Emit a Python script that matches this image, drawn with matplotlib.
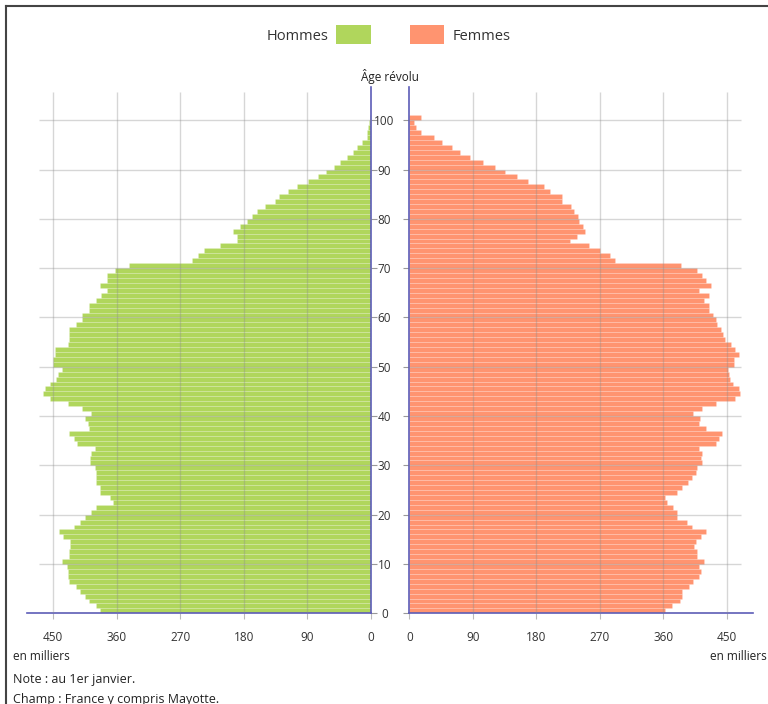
import matplotlib.pyplot as plt
from matplotlib.patches import Rectangle
from matplotlib.lines import Line2D
import numpy as np

# ages 0..100 (100 = 100 ans ou plus), values in thousands
ages = list(range(0, 101))

hommes = [384, 389, 399, 405, 412, 417, 427, 429, 429, 431,
          437, 427, 427, 426, 426, 436, 442, 421, 412, 405,
          396, 389, 365, 370, 383, 384, 389, 390, 390, 391,
          398, 398, 396, 391, 416, 421, 427, 399, 400, 405,
          397, 409, 429, 455, 465, 462, 455, 446, 443, 438,
          450, 450, 448, 448, 429, 427, 427, 427, 418, 409,
          409, 399, 399, 389, 382, 374, 384, 374, 374, 362,
          342, 254, 245, 237, 214, 190, 190, 195, 186, 176,
          169, 162, 150, 136, 130, 117, 105, 89, 75, 63,
          53, 44, 34, 25, 20, 13, 6, 5, 4, 3,
          2]

femmes = [362, 372, 383, 387, 387, 397, 402, 411, 414, 410,
          417, 408, 408, 404, 406, 414, 421, 400, 393, 379,
          379, 374, 365, 362, 379, 387, 395, 400, 406, 407,
          415, 414, 415, 410, 435, 439, 443, 421, 411, 412,
          402, 415, 435, 462, 469, 467, 458, 454, 453, 452,
          460, 460, 467, 462, 456, 447, 444, 442, 436, 435,
          430, 425, 425, 417, 425, 411, 428, 420, 415, 408,
          385, 292, 284, 270, 255, 227, 238, 249, 246, 241,
          239, 233, 229, 216, 216, 200, 191, 168, 153, 135,
          121, 105, 86, 72, 60, 46, 35, 16, 10, 6,
          16]

xticks = [0, 90, 180, 270, 360, 450]
yticks = list(range(0, 101, 10))

GREEN = '#b0d65c'
ORANGE = '#ff9470'
AXIS_BLUE = '#5c5cb8'
GRID = '#8c8c8c'
XMAX = 487
YMAX = 106.8

plt.rcParams['font.family'] = ['Open Sans', 'DejaVu Sans']

fig = plt.figure(figsize=(7.68, 7.04), dpi=100)
W, H = 768, 704

def box(x0, x1, ytop, ybot):
    return [x0 / W, 1 - ybot / H, (x1 - x0) / W, (ybot - ytop) / H]

ax_h = fig.add_axes(box(27, 371, 86.7, 613.3))
ax_f = fig.add_axes(box(409.3, 753, 86.7, 613.3))

for ax, vals, col in [(ax_h, hommes, GREEN), (ax_f, femmes, ORANGE)]:
    ax.barh(ages, vals, height=1.0, align='edge', color=col,
            edgecolor=(1, 1, 1, 0.18), linewidth=0.5, zorder=2)
    ax.set_xlim(0, XMAX)
    ax.set_ylim(0, YMAX)
    # grid drawn on top of the bars, slightly transparent
    ax.vlines(xticks[1:], 0, 105.7, color=GRID, alpha=0.35, lw=1, zorder=3)
    ax.hlines(yticks, 0, 470, color=GRID, alpha=0.35, lw=1, zorder=3)
    ax.set_xticks(xticks)
    ax.set_xticklabels([str(t) for t in xticks])
    ax.tick_params(axis='x', length=4, color='#bbbbbb', pad=9,
                   labelsize=8.5, labelcolor='#333333')
    ax.spines['top'].set_visible(False)
    ax.spines['bottom'].set_color(AXIS_BLUE)
    ax.spines['bottom'].set_linewidth(1.2)

ax_h.invert_xaxis()
ax_h.spines['left'].set_visible(False)
ax_h.spines['right'].set_color(AXIS_BLUE)
ax_h.spines['right'].set_linewidth(1.2)
ax_h.yaxis.tick_right()
ax_h.set_yticks(yticks)
ax_h.tick_params(axis='y', length=4, color='#999999', labelright=False)

ax_f.spines['right'].set_visible(False)
ax_f.spines['left'].set_color(AXIS_BLUE)
ax_f.spines['left'].set_linewidth(1.2)
ax_f.set_yticks(yticks)
ax_f.set_yticklabels([str(t) for t in yticks])
ax_f.tick_params(axis='y', length=4, color='#999999', pad=14,
                 labelsize=8.5, labelcolor='#333333')
for lab in ax_f.get_yticklabels():
    lab.set_horizontalalignment('center')

# axis title
fig.text(390 / W, 1 - 77 / H, 'Âge révolu', ha='center', va='center',
         fontsize=8.5, color='#222222')

# legend
fig.text(328 / W, 1 - 36 / H, 'Hommes', ha='right', va='center',
         fontsize=10.5, color='#333333')
fig.patches.append(Rectangle((336 / W, 1 - 44 / H), 35 / W, 19 / H,
                             transform=fig.transFigure, facecolor=GREEN,
                             edgecolor='none'))
fig.patches.append(Rectangle((410 / W, 1 - 44 / H), 34 / W, 19 / H,
                             transform=fig.transFigure, facecolor=ORANGE,
                             edgecolor='none'))
fig.text(453 / W, 1 - 36 / H, 'Femmes', ha='left', va='center',
         fontsize=10.5, color='#333333')

# units and notes
fig.text(13 / W, 1 - 657 / H, 'en milliers', ha='left', va='center',
         fontsize=8.5, color='#222222')
fig.text(767 / W, 1 - 657 / H, 'en milliers', ha='right', va='center',
         fontsize=8.5, color='#222222')
fig.text(13 / W, 1 - 680 / H, 'Note : au 1er janvier.', ha='left',
         va='center', fontsize=9, color='#222222')
fig.text(13 / W, 1 - 699 / H, 'Champ : France y compris Mayotte.',
         ha='left', va='center', fontsize=9, color='#222222')

# outer frame (top and left edges)
fig.add_artist(Line2D([5.5 / W, 1], [1 - 6 / H, 1 - 6 / H],
                      transform=fig.transFigure, color='#444444', lw=1.5))
fig.add_artist(Line2D([5.5 / W, 5.5 / W], [0, 1 - 6 / H],
                      transform=fig.transFigure, color='#444444', lw=1.5))

fig.savefig('out.png', dpi=100)
